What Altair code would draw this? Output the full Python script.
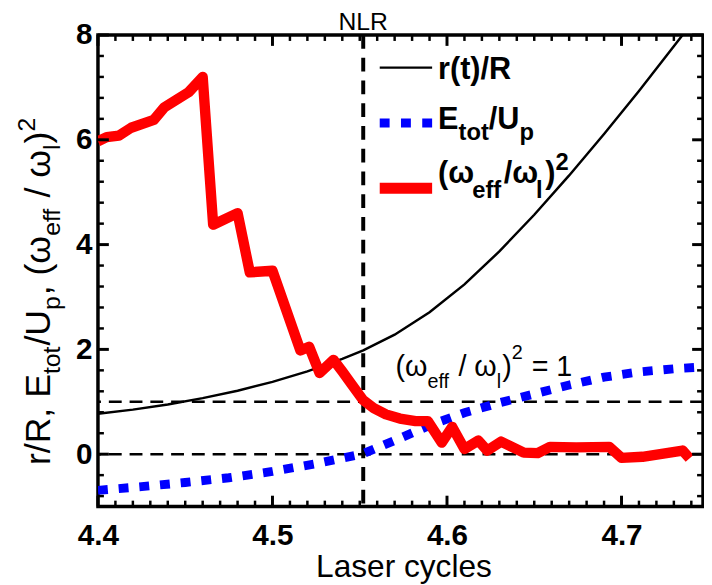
import altair as alt
import pandas as pd

# ---------------- data ----------------
x_major = [4.4, 4.5, 4.6, 4.7]
x_minor = [round(4.4 + 0.01 * i, 2) for i in range(1, 35) if i % 10 != 0]
y_major = [0, 2, 4, 6, 8]
y_minor = [-0.8, -0.4, 0.4, 0.8, 1.2, 1.6, 2.4, 2.8, 3.2, 3.6, 4.4, 4.8, 5.2, 5.6, 6.4, 6.8, 7.2, 7.6]

red_x = [4.400, 4.405, 4.412, 4.419, 4.432, 4.438, 4.452, 4.460, 4.466, 4.480, 4.487, 4.500,
         4.516, 4.521, 4.527, 4.535, 4.540, 4.545, 4.552, 4.558, 4.565, 4.573, 4.582, 4.589,
         4.597, 4.603, 4.610, 4.618, 4.623, 4.631, 4.644, 4.652, 4.659, 4.674, 4.693, 4.700,
         4.712, 4.735, 4.739]
red_y = [5.97, 6.05, 6.08, 6.23, 6.38, 6.62, 6.91, 7.20, 4.38, 4.60, 3.47, 3.50,
         1.98, 2.05, 1.55, 1.80, 1.58, 1.35, 1.03, 0.88, 0.76, 0.68, 0.63, 0.63,
         0.22, 0.52, 0.10, 0.26, 0.07, 0.24, 0.03, 0.02, 0.14, 0.13, 0.14, -0.07,
         -0.05, 0.07, -0.08]

black_x = [4.400, 4.420, 4.440, 4.460, 4.480, 4.500, 4.520, 4.540, 4.552, 4.570, 4.590,
           4.610, 4.630, 4.650, 4.670, 4.690, 4.710, 4.735, 4.750]
black_y = [0.77, 0.85, 0.95, 1.07, 1.21, 1.38, 1.58, 1.82, 1.98, 2.28, 2.71,
           3.24, 3.87, 4.57, 5.32, 6.11, 6.93, 8.00, 8.65]

blue_x = [4.400, 4.425, 4.450, 4.475, 4.500, 4.525, 4.552, 4.570, 4.590, 4.610, 4.630,
          4.650, 4.670, 4.690, 4.710, 4.730, 4.745]
blue_y = [-0.69, -0.62, -0.54, -0.45, -0.33, -0.18, 0.01, 0.26, 0.55, 0.79, 0.98,
          1.15, 1.32, 1.47, 1.57, 1.63, 1.66]

nlr_x = 4.552
h_lines = [0, 1]

# text pieces: (text, role)  role: m = main, s = subscript, p = superscript
ytitle_parts = [("r/R, E", "m"), ("tot", "s"), ("/U", "m"), ("p", "s"), (", (ω", "m"),
                ("eff", "s"), (" / ω", "m"), ("l", "s"), (")", "m"), ("2", "p")]
leg1_parts = [("r(t)/R", "m")]
leg2_parts = [("E", "m"), ("tot", "s"), ("/U", "m"), ("p", "s")]
leg3_parts = [("(ω", "m"), ("eff", "s"), ("/ω", "m"), ("l", "s"), (")", "m"), ("2", "p")]
annot_parts = [("(ω", "m"), ("eff", "s"), (" / ω", "m"), ("l", "s"), (")", "m"), ("2", "p"), (" = 1", "m")]
nlr_text = "NLR"
xtitle_text = "Laser cycles"

# ---------------- layout ----------------
FONT = "Liberation Sans"
W, H = 612, 477
XDOM = [4.4, 4.7467]
YDOM = [-1, 8]
xs = alt.Scale(domain=XDOM, nice=False, zero=False)
ys = alt.Scale(domain=YDOM, nice=False, zero=False)

AX = alt.Axis(values=x_major, format=".1f", ticks=False, domain=False, grid=False,
              labelFont=FONT, labelFontSize=30, labelFontWeight="bold", labelColor="black",
              labelPadding=14, labelFlush=False, labelOverlap=False, title=None)
AY = alt.Axis(values=y_major, format="d", ticks=False, domain=False, grid=False,
              labelFont=FONT, labelFontSize=30, labelFontWeight="bold", labelColor="black",
              labelPadding=6, labelOverlap=False, title=None)

REG = {' ': .278, '(': .333, ')': .333, ',': .278, '/': .278, '=': .584, '1': .556, '2': .556,
       'E': .667, 'R': .722, 'U': .722, 'e': .556, 'f': .278, 'l': .222, 'o': .556, 'p': .556,
       'r': .333, 't': .278, 'ω': .781}
BOLD = {' ': .278, '(': .333, ')': .333, ',': .278, '/': .278, '2': .556, 'E': .667, 'R': .722,
        'U': .722, 'e': .556, 'f': .333, 'l': .278, 'o': .611, 'p': .611, 'r': .389, 't': .333,
        'ω': .781}


def tw(s, size, table):
    return sum(table.get(c, .556) for c in s) * size


def layout(parts, size_m, size_s, shift_s, shift_p, table, sub_gap=0.0):
    out, pos = [], 0.0
    for txt, role in parts:
        sz = size_m if role == "m" else size_s
        sh = 0 if role == "m" else (shift_s if role == "s" else shift_p)
        lead = len(txt) - len(txt.lstrip(" "))
        pos += tw(" " * lead, sz, table)          # SVG drops leading blanks: advance instead
        body = txt.lstrip(" ")
        out.append((body, pos, sh, sz))
        pos += tw(body, sz, table)
        if role != "m":
            pos += sub_gap
    return out


layers = []

layers.append(alt.Chart(pd.DataFrame({"y": h_lines})).mark_rule(
    color="black", strokeWidth=2.5, strokeDash=[13, 8]).encode(
    y=alt.Y("y:Q", scale=ys, axis=AY)))
layers.append(alt.Chart(pd.DataFrame({"x": [nlr_x]})).mark_rule(
    color="black", strokeWidth=4, strokeDash=[14, 9]).encode(
    x=alt.X("x:Q", scale=xs, axis=AX)))


def series(xv, yv, **mk):
    df = pd.DataFrame({"x": xv, "y": yv})
    return alt.Chart(df).mark_line(clip=True, **mk).encode(
        x=alt.X("x:Q", scale=xs, axis=AX), y=alt.Y("y:Q", scale=ys, axis=AY))


layers.append(series(black_x, black_y, color="black", strokeWidth=2.5))
layers.append(series(blue_x, blue_y, color="#0000ff", strokeWidth=9, strokeDash=[10, 11], strokeCap="butt"))
layers.append(series(red_x, red_y, color="#ff0000", strokeWidth=10.5, strokeJoin="round", strokeCap="butt"))

# ticks (inward, on all four sides)
for vals, L, sw in [(x_major, 11, 3), (x_minor, 6, 2.5)]:
    d = pd.DataFrame({"v": vals})
    layers.append(alt.Chart(d).mark_rule(color="black", strokeWidth=sw).encode(
        x=alt.X("v:Q", scale=xs, axis=AX), y=alt.value(H), y2=alt.value(H - L)))
    layers.append(alt.Chart(d).mark_rule(color="black", strokeWidth=sw).encode(
        x=alt.X("v:Q", scale=xs, axis=AX), y=alt.value(0), y2=alt.value(L)))
for vals, L, sw in [(y_major, 11, 3), (y_minor, 6, 2.5)]:
    d = pd.DataFrame({"v": vals})
    layers.append(alt.Chart(d).mark_rule(color="black", strokeWidth=sw).encode(
        y=alt.Y("v:Q", scale=ys, axis=AY), x=alt.value(0), x2=alt.value(L)))
    layers.append(alt.Chart(d).mark_rule(color="black", strokeWidth=sw).encode(
        y=alt.Y("v:Q", scale=ys, axis=AY), x=alt.value(W), x2=alt.value(W - L)))

# legend samples
LX0, LX1 = 285, 338
layers.append(alt.Chart().mark_rule(color="black", strokeWidth=2.5).encode(
    x=alt.value(LX0), x2=alt.value(LX1), y=alt.value(33)))
layers.append(alt.Chart().mark_rule(color="#0000ff", strokeWidth=9, strokeDash=[10, 11.5]).encode(
    x=alt.value(LX0), x2=alt.value(LX1), y=alt.value(89)))
layers.append(alt.Chart().mark_rule(color="#ff0000", strokeWidth=11).encode(
    x=alt.value(LX0), x2=alt.value(LX1), y=alt.value(155)))


def text_layers(pieces, x0, y0, bold, vertical=False):
    out = []
    for txt, pos, sh, sz in pieces:
        if vertical:
            px, py, ang = x0 + sh, y0 - pos, 270
        else:
            px, py, ang = x0 + pos, y0 + sh, 0
        out.append(alt.Chart().mark_text(text=txt, font=FONT, fontSize=sz, angle=ang,
                                         fontWeight="bold" if bold else "normal",
                                         align="left", baseline="alphabetic", color="black").encode(
            x=alt.value(px), y=alt.value(py)))
    return out


layers += text_layers(layout(leg1_parts, 31, 24, 0, 0, BOLD), 344, 45, True)
layers += text_layers(layout(leg2_parts, 31, 24, 11, 0, BOLD), 344, 95, True)
layers += text_layers(layout(leg3_parts, 31, 24, 15, -13, BOLD, sub_gap=2.5), 344, 150, True)
layers += text_layers(layout(annot_parts, 29, 20, 12, -17, REG, sub_gap=1.0), 301, 345, False)
layers += text_layers(layout(ytitle_parts, 36, 25, 11, -15, REG, sub_gap=1.0), -49, 435, False, vertical=True)

layers.append(alt.Chart(pd.DataFrame({"x": [nlr_x]})).mark_text(
    text=nlr_text, font=FONT, fontSize=25, align="center", baseline="alphabetic", color="black").encode(
    x=alt.X("x:Q", scale=xs, axis=AX), y=alt.value(-5)))
layers.append(alt.Chart().mark_text(text=xtitle_text, font=FONT, fontSize=32, align="center",
                                    baseline="alphabetic", color="black").encode(
    x=alt.value(309.5), y=alt.value(548)))

chart = alt.layer(*layers).properties(
    width=W, height=H,
    autosize=alt.AutoSizeParams(type="none"),
    padding={"left": 91, "top": 24, "right": 1, "bottom": 76},
).configure_view(stroke="black", strokeWidth=3.5)

chart.save("out.html", embed_options={"renderer": "svg", "actions": False})
